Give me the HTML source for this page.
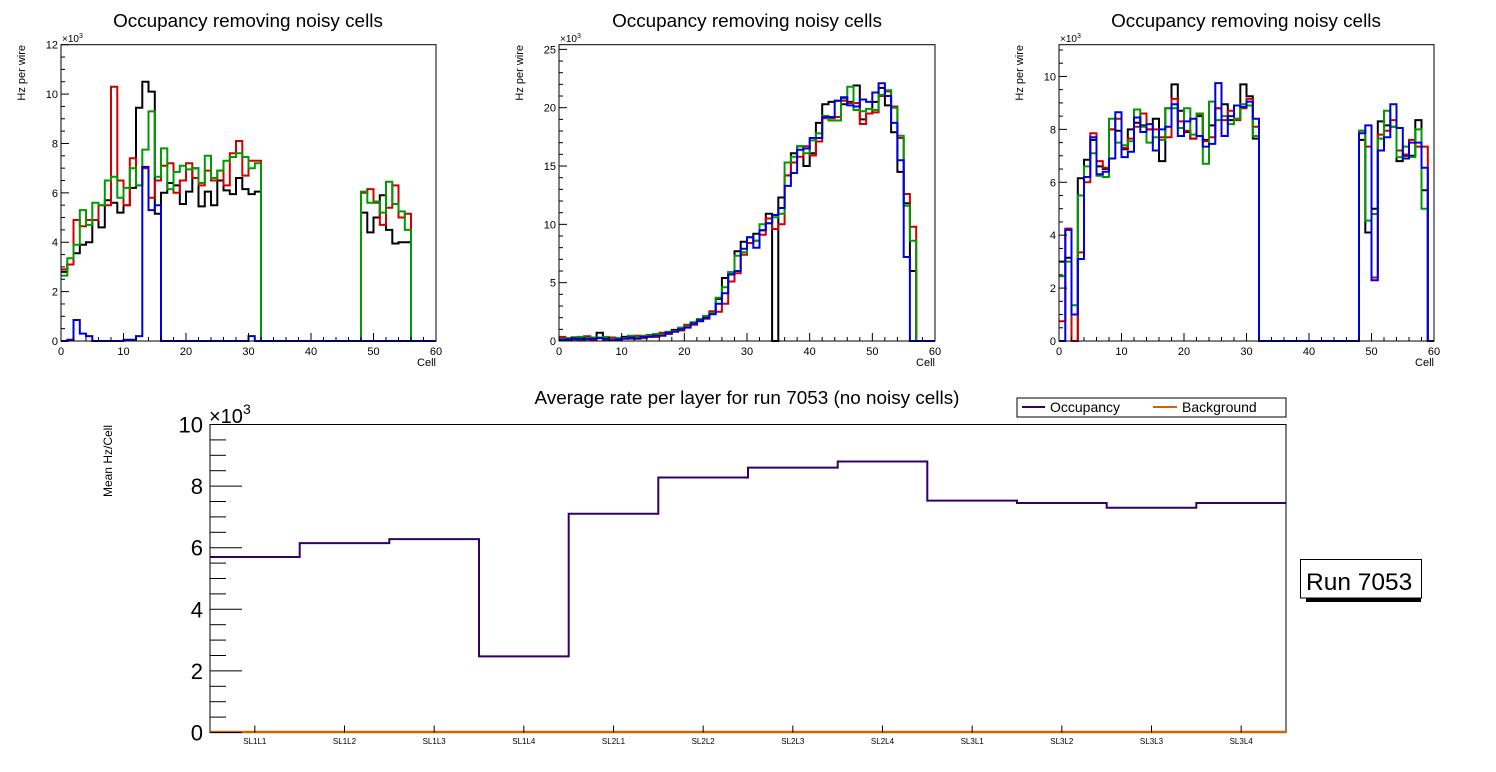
<!DOCTYPE html>
<html><head><meta charset="utf-8"><style>
html,body{margin:0;padding:0;background:#fff;}
svg{display:block;font-family:"Liberation Sans",Arial,sans-serif;}
</style></head><body>
<svg id="s" width="1496" height="772" viewBox="0 0 1496 772" xmlns="http://www.w3.org/2000/svg">
<rect width="1496" height="772" fill="#fff"/>
<text x="248" y="27" font-size="18.9" text-anchor="middle">Occupancy removing noisy cells</text>
<text x="747" y="27" font-size="18.9" text-anchor="middle">Occupancy removing noisy cells</text>
<text x="1246" y="27" font-size="18.9" text-anchor="middle">Occupancy removing noisy cells</text>
<text x="747" y="404" font-size="18.9" text-anchor="middle">Average rate per layer for run 7053 (no noisy cells)</text>
<g id="g"></g>
<rect x="1017" y="398" width="269" height="19" fill="#fff" stroke="#000" stroke-width="1"/>
<line x1="1022" y1="407" x2="1045" y2="407" stroke="#330066" stroke-width="2"/>
<text x="1050" y="412" font-size="14">Occupancy</text>
<line x1="1153" y1="407" x2="1177" y2="407" stroke="#cc6600" stroke-width="2"/>
<text x="1182" y="412" font-size="14">Background</text>
<rect x="1306" y="598" width="115" height="4" fill="#000"/>
<rect x="1300.5" y="559.5" width="121" height="38.5" fill="#fff" stroke="#000" stroke-width="1"/>
<text x="1306" y="590" font-size="24.5">Run 7053</text>
<text transform="translate(112,425) rotate(-90)" font-size="12" text-anchor="end">Mean Hz/Cell</text>
</svg>
<script>
var g=document.getElementById('g');var h='';
function Z(n){var a=[];for(var i=0;i<n;i++)a.push(0);return a;}
function build(pre,mid,gap,post,tot){var a=pre.concat(Z(gap)).concat(post);while(a.length<tot)a.push(0);return a;}
var P=[
{x0:61,x1:436,y0:341,y1:44.7,ymax:12,maj:2,min:0.5,labs:[0,2,4,6,8,10,12],
 s:[
 ["#000",build([2.8,3.1,3.55,3.9,4.0,4.9,4.6,5.7,5.6,5.2,5.5,6.2,9.45,10.5,10.1,5.15,6.0,6.4,6.3,5.55,6.05,7.0,5.45,6.05,5.5,6.5,6.1,5.95,6.6,6.15,5.95,6.05],0,16,[5.2,4.4,5.0,5.9,4.5,3.95,4.0,4.0],60)],
 ["#d00000",build([2.9,3.1,4.9,4.65,4.9,4.9,5.5,5.5,10.3,6.5,5.5,7.4,6.3,7.0,5.8,6.5,7.1,7.2,6.0,6.5,7.2,6.6,6.3,6.9,6.5,6.9,6.3,7.6,8.1,6.7,7.3,7.3],0,16,[6.0,6.15,5.6,4.7,5.4,6.3,5.0,5.15],60)],
 ["#009900",build([2.65,3.35,3.9,5.3,4.7,5.6,5.5,6.5,6.65,5.8,6.2,7.0,6.3,7.75,9.3,6.65,7.8,6.15,6.85,7.1,6.95,7.0,6.4,7.5,6.6,6.9,7.3,7.45,7.6,7.45,7.0,7.2],0,16,[6.05,5.6,5.65,5.2,6.45,5.55,5.25,4.5],60)],
 ["#0000dd",build([0,0.05,0.85,0.3,0.2,0,0,0,0,0,0.05,0.05,0.2,7.05,5.3,5.5,0,0,0,0,0,0,0,0,0,0,0,0,0,0,0.2,0],0,0,[],60)]
 ]},
{x0:559,x1:935,y0:341,y1:44.7,ymax:25.4,maj:5,min:1,labs:[0,5,10,15,20,25],s:[]},
{x0:1059,x1:1434,y0:341,y1:44.7,ymax:11.2,maj:2,min:0.5,labs:[0,2,4,6,8,10],
 s:[
 ["#000",build([3.0,3.15,0,6.15,6.85,7.6,6.6,6.5,8.0,7.95,7.25,8.0,8.25,8.15,8.0,8.4,6.8,8.8,9.7,8.7,7.9,7.65,8.5,7.6,8.15,8.8,8.95,8.35,8.4,9.7,9.25,7.65],0,16,[7.6,4.1,5.0,8.3,8.15,8.1,6.8,7.0,7.0,8.35,5.7],60)],
 ["#d00000",build([0.75,4.25,0,3.35,6.0,7.85,6.8,6.55,8.0,8.4,7.3,7.65,8.1,8.6,8.0,8.0,7.7,7.7,9.15,8.3,7.95,7.65,8.55,7.55,7.7,8.8,8.35,8.7,8.35,8.8,9.15,8.1],0,16,[7.95,7.35,2.4,7.8,7.95,8.35,7.2,7.05,7.6,7.35,7.35],60)],
 ["#009900",build([2.45,3.0,1.35,5.5,6.6,7.1,6.25,6.2,8.4,7.5,7.4,7.55,8.75,8.1,7.5,7.7,7.6,8.8,8.8,8.05,8.8,7.8,8.6,6.7,9.05,8.35,8.5,8.2,8.4,8.95,8.9,7.75],0,16,[7.95,4.55,4.8,7.65,8.7,8.1,6.95,7.35,6.95,8.0,5.0],60)],
 ["#0000dd",build([0,4.2,1.0,3.1,6.2,7.7,6.3,6.4,6.9,8.65,6.95,7.15,8.45,7.9,8.2,7.2,8.0,8.1,8.95,7.75,8.3,8.4,7.75,7.35,7.45,9.75,7.75,8.5,8.9,8.85,9.05,8.4],0,16,[7.85,8.15,2.3,7.2,7.7,8.95,8.05,6.9,7.5,7.5,6.55],60)]
 ]}
];
var low=[0.2,0.15,0.2,0.2,0.25,0.2,0.3,0.2,0.15,0.15,0.25,0.3,0.3,0.35,0.4,0.45,0.55,0.7,0.85,1.0,1.25,1.5,1.75,2.0,2.4];
function lw(d,k){return low.map(function(v,i){return Math.max(0,v+d[i%d.length]*k);});}
var bk=lw([0.05,-0.05,0.1,0],1);bk[6]=0.7;
P[1].s=[
 ["#000",bk.concat([3.6,5.4,5.9,7.7,8.5,8.4,9.2,9.5,10.9,0,12.3,14.2,16.1,16.7,15.0,16.1,18.7,20.3,20.5,20.6,20.3,20.5,21.9,19.0,19.5,20.5,21.7,20.2,17.9,14.5,11.8,6.0,0,0,0])],
 ["#d00000",lw([0.15,-0.1,0,-0.1],1).concat([2.5,3.2,5.1,5.8,7.4,8.4,8.6,9.1,10.5,9.6,10.0,14.2,15.3,15.8,16.7,15.9,17.1,19.1,19.1,19.2,20.6,20.4,20.4,18.6,19.5,19.6,21.0,21.4,20.1,17.4,12.6,9.8,0,0,0])],
 ["#009900",lw([0,0.1,0,0.15],1).concat([3.7,4.6,5.9,7.3,7.6,8.9,8.6,10.0,10.1,10.6,10.9,15.3,15.8,16.7,16.1,17.2,17.8,19.3,18.9,18.9,20.8,21.8,19.8,19.7,19.9,19.8,21.1,21.5,20.0,17.6,11.6,8.6,0,0,0])],
 ["#0000dd",lw([-0.1,0,-0.05,0],1).concat([3.2,4.1,5.7,6.0,7.9,8.9,8.0,9.5,10.1,10.8,11.4,13.3,14.4,16.4,16.5,17.4,17.4,19.2,19.2,20.6,20.9,20.2,20.1,20.7,20.5,21.3,22.1,21.0,18.7,15.5,7.2,0,0,0,0])]
];
P.forEach(function(p){
 var W=p.x1-p.x0,H=p.y0-p.y1,bw=W/60;
 function Y(v){return p.y0-v/p.ymax*H;}
 p.s.forEach(function(s){var a=s[1],d='M'+p.x0+','+Y(a[0]).toFixed(1);
  for(var i=0;i<60;i++){if(i>0)d+='V'+Y(a[i]).toFixed(1);d+='H'+(p.x0+bw*(i+1)).toFixed(1);}
  h+='<path d="'+d+'" fill="none" stroke="'+s[0]+'" stroke-width="2"/>';});
 h+='<rect x="'+p.x0+'" y="'+p.y1+'" width="'+W+'" height="'+H+'" fill="none" stroke="#000" stroke-width="1"/>';
 for(var v=0;v<=p.ymax+1e-6;v+=p.min){var y=Y(v);var m=Math.abs(v/p.maj-Math.round(v/p.maj))<1e-6;
  h+='<line x1="'+p.x0+'" y1="'+y+'" x2="'+(p.x0+(m?8:4))+'" y2="'+y+'" stroke="#000" stroke-width="1"/>';}
 p.labs.forEach(function(v){h+='<text x="'+(p.x0-3)+'" y="'+(Y(v)+4)+'" font-size="11" text-anchor="end">'+v+'</text>';});
 for(var c=0;c<=60;c+=2){var x=p.x0+c/60*W;var m=c%10==0;
  h+='<line x1="'+x+'" y1="'+p.y0+'" x2="'+x+'" y2="'+(p.y0-(m?8:4))+'" stroke="#000" stroke-width="1"/>';
  if(m)h+='<text x="'+x+'" y="355" font-size="11" text-anchor="middle">'+c+'</text>';}
 h+='<text x="'+p.x1+'" y="366" font-size="11" text-anchor="end">Cell</text>';
 h+='<text x="'+(p.x0+1)+'" y="42" font-size="10">×10<tspan dy="-4" font-size="7">3</tspan></text>';
 h+='<text transform="translate('+(p.x0-36)+',45) rotate(-90)" font-size="11" text-anchor="end">Hz per wire</text>';
});
var bx0=210,bx1=1286,by0=732.5,by1=424.5,bw=(bx1-bx0)/12;
function BY(v){return by0-v/10*(by0-by1);}
var vals=[5.7,6.15,6.28,2.47,7.1,8.28,8.6,8.8,7.53,7.45,7.3,7.45];
var d='M'+bx0+','+BY(vals[0]);for(var i=0;i<12;i++){if(i>0)d+='V'+BY(vals[i]).toFixed(1);d+='H'+(bx0+bw*(i+1)).toFixed(1);}
h+='<path d="'+d+'" fill="none" stroke="#330066" stroke-width="2"/>';
h+='<rect x="'+bx0+'" y="'+by1+'" width="'+(bx1-bx0)+'" height="'+(by0-by1)+'" fill="none" stroke="#000" stroke-width="1"/>';
h+='<line x1="'+bx0+'" y1="'+(by0-0.5)+'" x2="'+bx1+'" y2="'+(by0-0.5)+'" stroke="#cc6600" stroke-width="2.5"/>';
for(var v=0;v<=10.001;v+=0.5){var y=BY(v);var m=Math.abs(v/2-Math.round(v/2))<1e-6;
 h+='<line x1="'+bx0+'" y1="'+y+'" x2="'+(bx0+(m?32:16))+'" y2="'+y+'" stroke="#000" stroke-width="1"/>';
 if(m)h+='<text x="203" y="'+(y+8)+'" font-size="22" text-anchor="end">'+Math.round(v)+'</text>';}
h+='<text x="209" y="423" font-size="20">×10<tspan dy="-9" font-size="14">3</tspan></text>';
var L=['SL1L1','SL1L2','SL1L3','SL1L4','SL2L1','SL2L2','SL2L3','SL2L4','SL3L1','SL3L2','SL3L3','SL3L4'];
L.forEach(function(t,i){var x=bx0+bw*(i+0.5);h+='<line x1="'+x+'" y1="'+by0+'" x2="'+x+'" y2="'+(by0-7)+'" stroke="#000" stroke-width="1"/>';
 h+='<text x="'+x+'" y="744" font-size="8" text-anchor="middle">'+t+'</text>';});
g.innerHTML=h;
</script>
</body></html>
